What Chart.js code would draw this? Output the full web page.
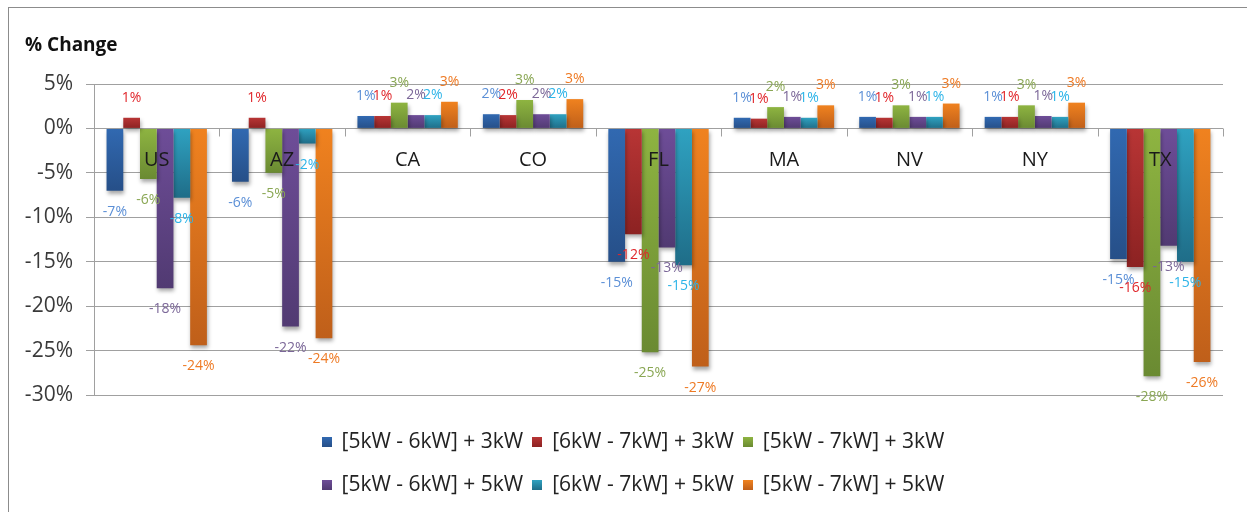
<!DOCTYPE html>
<html>
<head>
<meta charset="utf-8">
<title>% Change</title>
<script src="https://cdn.jsdelivr.net/npm/chart.js@4.4.1/dist/chart.umd.min.js"></script>
<style>
    body { margin: 0; background: #fff; }
    canvas { display: block; }
</style>
</head>
<body>
<canvas id="changeChart" width="1247" height="512"></canvas>
<script>
const states = ['US', 'AZ', 'CA', 'CO', 'FL', 'MA', 'NV', 'NY', 'TX'];
const seriesNames = [
    '[5kW - 6kW] + 3kW',
    '[6kW - 7kW] + 3kW',
    '[5kW - 7kW] + 3kW',
    '[5kW - 6kW] + 5kW',
    '[6kW - 7kW] + 5kW',
    '[5kW - 7kW] + 5kW'
];
// % change per state
const s56plus3 = [-7.0, -6.0, 1.4, 1.6, -15.0, 1.2, 1.3, 1.3, -14.7];
const s67plus3 = [1.2, 1.2, 1.4, 1.5, -11.9, 1.1, 1.2, 1.3, -15.6];
const s57plus3 = [-5.7, -5.0, 2.9, 3.2, -25.2, 2.4, 2.6, 2.6, -27.9];
const s56plus5 = [-18.0, -22.3, 1.5, 1.6, -13.4, 1.3, 1.3, 1.4, -13.2];
const s67plus5 = [-7.8, -1.7, 1.5, 1.6, -15.4, 1.2, 1.3, 1.3, -15.0];
const s57plus5 = [-24.4, -23.6, 3.0, 3.3, -26.8, 2.6, 2.8, 2.9, -26.3];
const yMin = -30;
const yMax = 5;
const yStep = 5;

const seriesValues = [s56plus3, s67plus3, s57plus3, s56plus5, s67plus5, s57plus5];

// bar gradient (top -> bottom) and label colours
const barTop = ['#3169b1', '#b83535', '#8eb441', '#6e4d98', '#2fa2c1', '#f0821f'];
const barBottom = ['#264f88', '#8c2222', '#6a8a32', '#513a72', '#1f6d88', '#bf5f1a'];
const labelColors = ['#5b8fd6', '#e0262b', '#8aa754', '#7b6798', '#2db4e8', '#ee7a24'];

const FONT = '"Open Sans", "Noto Sans", sans-serif';

function barFill(i) {
    return function(c) {
        const chart = c.chart;
        const y = chart.scales && chart.scales.y;
        if (!y || c.type !== 'data' || !chart.chartArea) return barTop[i];
        const p0 = y.getPixelForValue(0);
        const p1 = y.getPixelForValue(c.raw);
        const g = chart.ctx.createLinearGradient(0, Math.min(p0, p1), 0, Math.max(p0, p1) + 0.01);
        g.addColorStop(0, barTop[i]);
        g.addColorStop(1, barBottom[i]);
        return g;
    };
}

const datasets = seriesValues.map((vals, i) => ({
    label: seriesNames[i],
    data: vals,
    backgroundColor: barFill(i),
    borderWidth: 0,
    barPercentage: 1.0,
    categoryPercentage: 0.8
}));

function pct(v) {
    const r = Math.round(Math.abs(v));
    return (v < 0 && r !== 0 ? '-' : '') + r + '%';
}

const excelLook = {
    id: 'excelLook',
    beforeDraw(chart) {
        const ctx = chart.ctx;
        ctx.save();
        ctx.fillStyle = '#fff';
        ctx.fillRect(0, 0, chart.width, chart.height);
        ctx.strokeStyle = '#8c8c8c';
        ctx.lineWidth = 1;
        ctx.strokeRect(8.5, 7.5, chart.width + 20, chart.height + 20);
        ctx.restore();
    },
    beforeDatasetsDraw(chart) {
        const ctx = chart.ctx;
        ctx.save();
        ctx.shadowColor = 'rgba(0,0,0,0.35)';
        ctx.shadowBlur = 4;
        ctx.shadowOffsetX = 1;
        ctx.shadowOffsetY = 3;
    },
    afterDatasetsDraw(chart) {
        const ctx = chart.ctx;
        ctx.restore();
        const x = chart.scales.x, y = chart.scales.y;
        const y0 = y.getPixelForValue(0);

        ctx.save();
        // category ticks on the zero line
        ctx.strokeStyle = '#a0a0a0';
        ctx.lineWidth = 1;
        ctx.beginPath();
        for (let i = 0; i <= states.length; i++) {
            const px = Math.round(x.getPixelForValue(i - 0.5)) + 0.5;
            ctx.moveTo(px, Math.round(y0) + 0.5);
            ctx.lineTo(px, Math.round(y0) + 8.5);
        }
        ctx.stroke();

        // data labels
        ctx.font = '14px ' + FONT;
        ctx.textAlign = 'center';
        ctx.textBaseline = 'middle';
        chart.data.datasets.forEach((ds, di) => {
            const meta = chart.getDatasetMeta(di);
            ctx.fillStyle = labelColors[di];
            meta.data.forEach((bar, i) => {
                const v = ds.data[i];
                const ly = v >= 0 ? bar.y - 20 : bar.y + 21;
                ctx.fillText(pct(v), bar.x, ly);
            });
        });

        // state names next to the zero line
        ctx.font = '20px ' + FONT;
        ctx.fillStyle = '#1a1a1a';
        states.forEach((s, i) => {
            ctx.fillText(s, x.getPixelForValue(i), y0 + 32);
        });
        ctx.restore();
    },
    afterDraw(chart) {
        const ctx = chart.ctx;
        ctx.save();
        // title
        ctx.font = 'bold 19px ' + FONT;
        ctx.fillStyle = '#111';
        ctx.textAlign = 'left';
        ctx.textBaseline = 'middle';
        ctx.fillText('% Change', 25, 46);

        // legend, two rows of three
        const rows = [[0, 1, 2], [3, 4, 5]];
        const rowY = [442, 485];
        ctx.font = '21px ' + FONT;
        ctx.fillStyle = '#222';
        rows.forEach((row, r) => {
            const widths = row.map(i => ctx.measureText(seriesNames[i]).width);
            const total = widths.reduce((a, w) => a + 20 + w, 0) + 9 * (row.length - 1);
            let lx = 633 - total / 2;
            const cy = rowY[r];
            row.forEach((i, k) => {
                const g = ctx.createLinearGradient(0, cy - 5, 0, cy + 5);
                g.addColorStop(0, barTop[i]);
                g.addColorStop(1, barBottom[i]);
                ctx.fillStyle = g;
                ctx.fillRect(Math.round(lx), cy - 5, 10, 10);
                ctx.fillStyle = '#222';
                ctx.fillText(seriesNames[i], lx + 20, cy);
                lx += 20 + widths[k] + 9;
            });
        });
        ctx.restore();
    }
};

const ctx = document.getElementById('changeChart').getContext('2d');
const changeChart = new Chart(ctx, {
    type: 'bar',
    data: {
        labels: states,
        datasets: datasets
    },
    options: {
        responsive: false,
        animation: false,
        devicePixelRatio: 1,
        layout: {
            padding: { left: 0, right: 24, top: 84, bottom: 117 }
        },
        plugins: {
            legend: { display: false },
            title: { display: false },
            tooltip: { enabled: false }
        },
        scales: {
            x: {
                display: false,
                offset: true
            },
            y: {
                min: yMin,
                max: yMax,
                afterFit: function(scale) { scale.width = 94; },
                border: { color: '#a0a0a0' },
                grid: {
                    color: '#a0a0a0',
                    tickLength: 8
                },
                ticks: {
                    stepSize: yStep,
                    padding: 13,
                    color: '#3a3a3a',
                    font: { family: FONT, size: 21 },
                    callback: function(value) { return value + '%'; }
                }
            }
        }
    },
    plugins: [excelLook]
});
</script>
</body>
</html>
